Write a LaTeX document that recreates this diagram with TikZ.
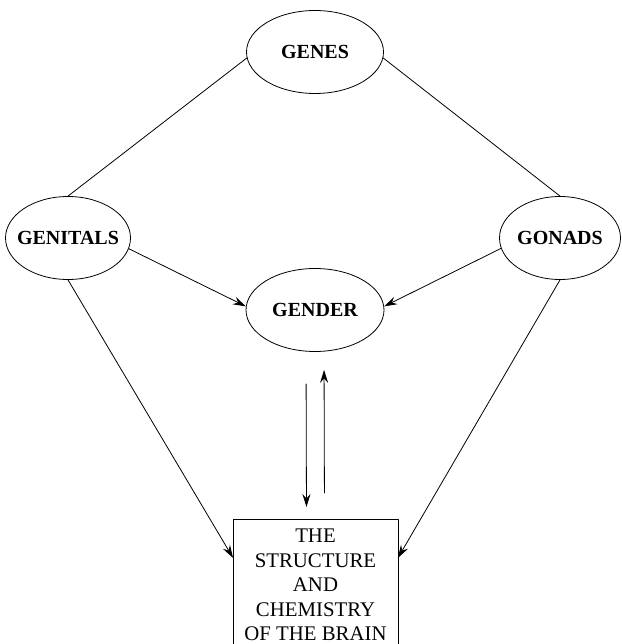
\documentclass[tikz,border=0pt]{standalone}
\usepackage{fontspec}
\setmainfont{Liberation Serif}
\usetikzlibrary{shapes.geometric,arrows.meta}
\tikzset{
	oval/.style={draw,ellipse,inner sep=0pt,minimum height=83pt,minimum width=#1},
	every label/.style={font=\fontsize{20}{24}\selectfont\bfseries},
	brainbox/.style={anchor=north,minimum width=164pt,inner xsep=0pt,inner ysep=9.5pt,align=center,font=\fontsize{20.8}{24.5}\selectfont}
}
\begin{document}
\begin{tikzpicture}[x=1pt,y=-1pt,>={Stealth[length=13pt,width=8pt,inset=4.5pt]},line cap=round,line join=round,line width=0.8pt]
	\useasboundingbox (0,0) rectangle (621,644);
	\path
	(315,52)node[oval=137pt,label=center:GENES](genes){}
	(68,238)node[oval=125pt,label=center:GENITALS](genitals){}
	(560,238)node[oval=121pt,label=center:GONADS](gonads){}
	(315,310)node[oval=138pt,label=center:GENDER](gender){}
	(315.5,519)node[brainbox](brain){THE\\STRUCTURE\\AND\\CHEMISTRY\\OF THE BRAIN}
	(0,644)coordinate(bottom)
	;
	\draw(genes.185)--(genitals.north);
	\draw(genes.-5)--(gonads.north);
	\draw[->](genitals.-10)--(gender.177);
	\draw[->](gonads.190)--(gender.3);
	\draw[->,shorten <=32pt,shorten >=12pt]([xshift=-9pt]gender.south)--([xshift=-9pt]brain.north);
	\draw[->,shorten <=26pt,shorten >=18pt]([xshift=9pt]brain.north)--([xshift=9pt]gender.south);
	\draw[->](genitals.south)--([yshift=-39pt]brain.north west);
	\draw[->](gonads.south)--([yshift=-39pt]brain.north east);
	\draw(brain.north west|-bottom)--(brain.north west)--(brain.north east)--(brain.north east|-bottom);
\end{tikzpicture}
\end{document}
